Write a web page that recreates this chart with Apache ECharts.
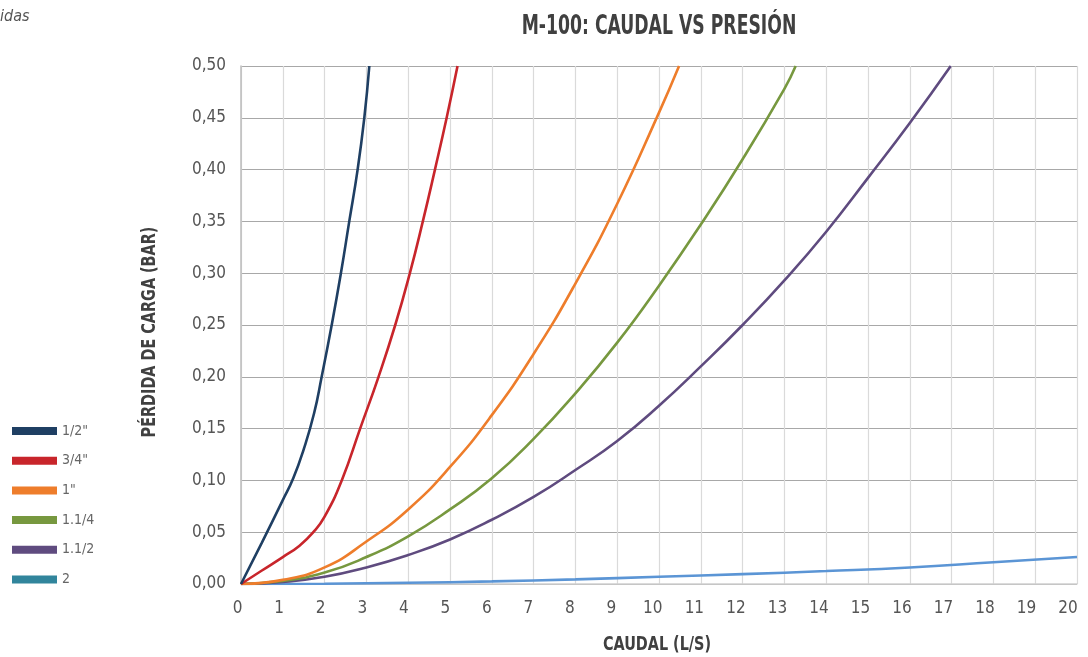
<!DOCTYPE html>
<html><head><meta charset="utf-8">
<script src="https://cdn.jsdelivr.net/npm/echarts@6/dist/echarts.min.js"></script>
<style>html,body{margin:0;padding:0;background:#fff}#c{width:1088px;height:657px}</style>
</head><body><div id="c"></div>
<script>
const seriesNames = ['1/2"', '3/4"', '1"', '1.1/4', '1.1/2', '2'];
const xTicks = [0, 20, 1];
const yTicks = [0, 0.5, 0.05];
const s12 = [[0,0],[0.5,0.04],[1,0.081],[1.25,0.102],[1.5,0.13],[1.75,0.165],[1.93,0.20],[2.17,0.25],[2.39,0.30],[2.59,0.35],[2.79,0.40],[2.95,0.45],[3.07,0.5]];
const s34 = [[0,0],[0.5,0.013],[1,0.026],[1.4,0.037],[1.73,0.05],[2,0.065],[2.41,0.10],[2.85,0.15],[3.29,0.20],[3.69,0.25],[4.04,0.30],[4.35,0.35],[4.64,0.40],[4.92,0.45],[5.18,0.5]];
const s1 = [[0,0],[1,0.004],[2,0.016],[3,0.041],[4,0.072],[5,0.113],[6,0.163],[7,0.222],[8,0.29],[9,0.367],[10,0.455],[10.48,0.5]];
const s114 = [[0,0],[1,0.003],[2,0.011],[3,0.026],[4,0.046],[5,0.072],[6,0.102],[7,0.14],[8,0.184],[9,0.233],[10,0.288],[11,0.347],[12,0.41],[13,0.478],[13.27,0.5]];
const s112 = [[0,0],[1,0.002],[2,0.007],[3,0.016],[4,0.028],[5,0.043],[6,0.062],[7,0.084],[8,0.11],[9,0.138],[10,0.172],[11,0.21],[12,0.25],[13,0.293],[14,0.34],[15,0.392],[16,0.445],[16.98,0.5]];
const s2 = [[0,0],[2,0.0003],[4,0.0012],[6,0.0025],[8,0.0045],[10,0.007],[12,0.0095],[14,0.0125],[16,0.016],[18,0.021],[20,0.026]];
const seriesData = [s12, s34, s1, s114, s112, s2];
const lineColors = ['#1f3f63', '#c8252b', '#ee7d2b', '#77983f', '#5f4b7f', '#5b95d5'];
const legendColors = ['#1f3f63', '#c8252b', '#ee7d2b', '#77983f', '#5f4b7f', '#31859c'];
const titleText = 'M-100: CAUDAL VS PRESIÓN';
const xName = 'CAUDAL (L/S)';
const yName = 'PÉRDIDA DE CARGA (BAR)';
const cornerText = 'idas';

const narrow = "'DejaVu Sans Condensed','Liberation Sans Narrow',sans-serif";
const chart = echarts.init(document.getElementById('c'));
chart.setOption({
  animation: false,
  backgroundColor: '#fff',
  graphic: [
    {type: 'text', x: 659, y: 27, scaleX: 0.71,
     style: {text: titleText, textAlign: 'center', textVerticalAlign: 'middle',
       fontFamily: narrow, fontWeight: 'bold', fontSize: 27, fill: '#404040'}},
    {type: 'text', x: 657, y: 645, scaleX: 0.8,
     style: {text: xName, textAlign: 'center', textVerticalAlign: 'middle',
       fontFamily: narrow, fontWeight: 'bold', fontSize: 20, fill: '#404040'}},
    {type: 'text', x: 150, y: 332, rotation: Math.PI / 2, scaleX: 0.8,
     style: {text: yName, textAlign: 'center', textVerticalAlign: 'middle',
       fontFamily: narrow, fontWeight: 'bold', fontSize: 20, fill: '#404040'}},
    {type: 'text', x: 0, y: 17,
     style: {text: cornerText, textVerticalAlign: 'middle', fontFamily: narrow,
       fontStyle: 'italic', fontSize: 16, fill: '#555'}}
  ],
  legend: {
    orient: 'vertical', left: 7, top: 419, itemGap: 15.7, itemWidth: 45, itemHeight: 8,
    icon: 'rect',
    textStyle: {fontFamily: narrow, fontSize: 14, color: '#666'},
    data: seriesNames.map((n, i) => ({name: n, itemStyle: {color: legendColors[i]}}))
  },
  grid: [
    {left: 241, right: 11, top: 66, bottom: 73, containLabel: false},
    {left: 237.7, right: 20, top: 66, bottom: 73, containLabel: false}
  ],
  xAxis: [{
    type: 'value', gridIndex: 0, min: xTicks[0], max: xTicks[1], interval: xTicks[2],
    axisLine: {show: true, lineStyle: {color: '#d0d0d0', width: 1.5}},
    axisTick: {show: false},
    axisLabel: {show: false},
    splitLine: {show: true, lineStyle: {color: '#dadada', width: 1.2}}
  }, {
    type: 'value', gridIndex: 1, min: xTicks[0], max: xTicks[1], interval: xTicks[2],
    axisLine: {show: false}, axisTick: {show: false}, splitLine: {show: false},
    axisLabel: {fontFamily: narrow, fontSize: 17, color: '#555', margin: 16}
  }],
  yAxis: [{
    type: 'value', gridIndex: 0, min: yTicks[0], max: yTicks[1], interval: yTicks[2],
    axisLine: {show: true, lineStyle: {color: '#bcbcbc', width: 1.5}},
    axisTick: {show: false},
    axisLabel: {fontFamily: narrow, fontSize: 17, color: '#555', margin: 15,
      formatter: v => v.toFixed(2).replace('.', ',')},
    splitLine: {show: true, lineStyle: {color: '#a8a8a8', width: 1.2}}
  }, {
    type: 'value', gridIndex: 1, min: yTicks[0], max: yTicks[1], interval: yTicks[2], show: false
  }],
  series: seriesData.map((d, i) => ({
    name: seriesNames[i], type: 'line', data: d, smooth: 0.5,
    showSymbol: false, symbol: 'none', xAxisIndex: 0, yAxisIndex: 0,
    itemStyle: {color: legendColors[i]},
    lineStyle: {color: lineColors[i], width: 2.6},
    z: 10 - i
  }))
});
</script></body></html>
